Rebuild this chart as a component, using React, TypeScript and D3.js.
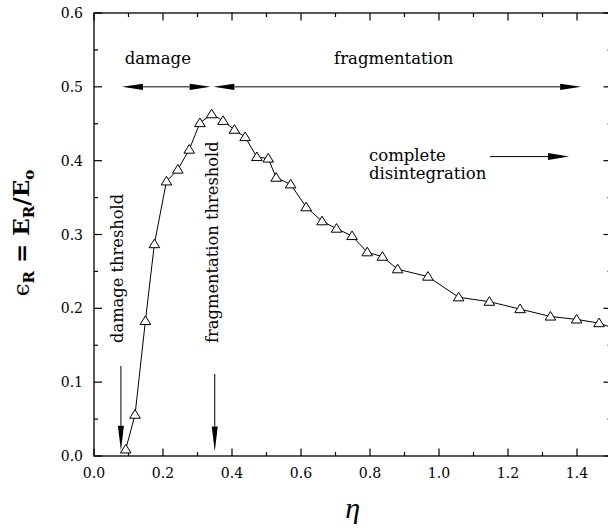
import React from "react";
import * as d3 from "d3";

const etaValues = [0.092, 0.119, 0.149, 0.175, 0.21, 0.243, 0.276, 0.307, 0.341, 0.374, 0.407, 0.438, 0.472, 0.505, 0.528, 0.57, 0.615, 0.661, 0.703, 0.748, 0.792, 0.836, 0.88, 0.968, 1.057, 1.146, 1.235, 1.323, 1.399, 1.464, 1.55];
const epsValues = [0.009, 0.056, 0.183, 0.287, 0.372, 0.388, 0.415, 0.451, 0.463, 0.454, 0.442, 0.432, 0.405, 0.403, 0.377, 0.368, 0.337, 0.318, 0.308, 0.298, 0.276, 0.27, 0.253, 0.243, 0.215, 0.209, 0.199, 0.189, 0.185, 0.18, 0.166];
const xTicks = [0, 0.2, 0.4, 0.6, 0.8, 1.0, 1.2, 1.4];
const yTicks = [0, 0.1, 0.2, 0.3, 0.4, 0.5, 0.6];

const W = 608, H = 531;
const L = 94, R = 611.5, T = 13, B = 456;
const SERIF = "'DejaVu Serif', serif";

function Arrow({ x1, y1, x2, y2, head = 21, hw = 3.2 }: any) {
  const dx = x2 - x1, dy = y2 - y1;
  const len = Math.hypot(dx, dy);
  const ux = dx / len, uy = dy / len;
  const bx = x2 - ux * head, by = y2 - uy * head;
  const px = -uy * hw, py = ux * hw;
  return (
    <g>
      <line x1={x1} y1={y1} x2={bx} y2={by} stroke="#000" strokeWidth={1} />
      <path d={`M${x2},${y2}L${bx + px},${by + py}L${bx - px},${by - py}Z`} fill="#000" />
    </g>
  );
}

function DoubleArrow({ x1, x2, y }: any) {
  const m = (x1 + x2) / 2;
  return (
    <g>
      <Arrow x1={m} y1={y} x2={x1} y2={y} />
      <Arrow x1={m} y1={y} x2={x2} y2={y} />
    </g>
  );
}

export default function App() {
  const x = d3.scaleLinear().domain([0, 1.5]).range([L, R]);
  const y = d3.scaleLinear().domain([0, 0.6]).range([B, T]);
  const pts = etaValues.map((e, i) => [x(e), y(epsValues[i])] as [number, number]);
  const line = d3.line()(pts) || "";
  const xMinor = d3.range(0, 1.51, 0.1);
  const yMinor = d3.range(0, 0.601, 0.05);
  const tri = "M0,-5L5.3,3.6L-5.3,3.6Z";

  return (
    <div style={{ position: "absolute", left: 0, top: 0 }}>
      <svg width={W} height={H} style={{ display: "block", background: "#fff" }}>
        <defs>
          <clipPath id="plot">
            <rect x={L} y={T} width={R - L} height={B - T} />
          </clipPath>
        </defs>
        <rect x={0} y={0} width={W} height={H} fill="#fff" />
        {/* ticks */}
        {xMinor.map((t, i) => {
          const major = i % 2 === 0;
          const len = major ? 7.5 : 4;
          return (
            <g key={"xt" + i}>
              <line x1={x(t)} x2={x(t)} y1={B} y2={B - len} stroke="#000" strokeWidth={1.2} />
              <line x1={x(t)} x2={x(t)} y1={T} y2={T + len} stroke="#000" strokeWidth={1.2} />
            </g>
          );
        })}
        {yMinor.map((t, i) => {
          const major = i % 2 === 0;
          const len = major ? 8 : 4;
          return (
            <g key={"yt" + i}>
              <line x1={L} x2={L + len} y1={y(t)} y2={y(t)} stroke="#000" strokeWidth={1.2} />
              <line x1={R} x2={R - len} y1={y(t)} y2={y(t)} stroke="#000" strokeWidth={1.2} />
            </g>
          );
        })}
        <rect x={L} y={T} width={R - L} height={B - T} fill="none" stroke="#000" strokeWidth={1.3} />
        {xTicks.map((t) => (
          <text key={"xl" + t} x={x(t)} y={B + 22} textAnchor="middle" fontFamily={SERIF} fontSize={14}>
            {d3.format(".1f")(t)}
          </text>
        ))}
        {yTicks.map((t) => (
          <text key={"yl" + t} x={L - 11} y={y(t) + 5} textAnchor="end" fontFamily={SERIF} fontSize={14}>
            {d3.format(".1f")(t)}
          </text>
        ))}
        {/* data */}
        <g clipPath="url(#plot)">
          <path d={line} fill="none" stroke="#000" strokeWidth={1} />
          {pts.map((p, i) => (
            <path key={"m" + i} d={tri} transform={`translate(${p[0]},${p[1]})`} fill="#fff" stroke="#000" strokeWidth={1} />
          ))}
        </g>
        {/* annotations */}
        <text x={x(0.089)} y={64} fontFamily={SERIF} fontSize={16.5}>damage</text>
        <text x={x(0.696)} y={64} fontFamily={SERIF} fontSize={16.5}>fragmentation</text>
        <DoubleArrow x1={x(0.081)} x2={x(0.338)} y={y(0.5)} />
        <DoubleArrow x1={x(0.346)} x2={x(1.412)} y={y(0.5)} />
        <text x={x(0.797)} y={161} fontFamily={SERIF} fontSize={16.5}>complete</text>
        <text x={x(0.797)} y={179} fontFamily={SERIF} fontSize={16.5}>disintegration</text>
        <Arrow x1={x(1.148)} y1={y(0.4055)} x2={x(1.377)} y2={y(0.4055)} hw={3.5} />
        <text transform={`translate(${122.5},${343}) rotate(-90)`} fontFamily={SERIF} fontSize={16.3}>damage threshold</text>
        <text transform={`translate(${217.5},${343}) rotate(-90)`} fontFamily={SERIF} fontSize={16.3}>fragmentation threshold</text>
        <Arrow x1={x(0.078)} y1={y(0.122)} x2={x(0.078)} y2={y(0.007)} head={25} hw={3} />
        <Arrow x1={x(0.35)} y1={y(0.111)} x2={x(0.35)} y2={y(0.006)} head={25} hw={3} />
        {/* axis titles */}
        <text transform={`translate(${29},${233}) rotate(-90)`} textAnchor="middle" fontFamily={SERIF} fontSize={23} fontWeight="bold">
          <tspan fontWeight="normal">ϵ</tspan>
          <tspan fontSize={15} dy={5}>R</tspan>
          <tspan dy={-5}> = E</tspan>
          <tspan fontSize={15} dy={5}>R</tspan>
          <tspan dy={-5}>/E</tspan>
          <tspan fontSize={15} dy={5}>o</tspan>
        </text>
        <text x={(L + R) / 2} y={518} textAnchor="middle" fontFamily="'Liberation Serif', serif" fontStyle="italic" fontSize={30}>η</text>
      </svg>
    </div>
  );
}
